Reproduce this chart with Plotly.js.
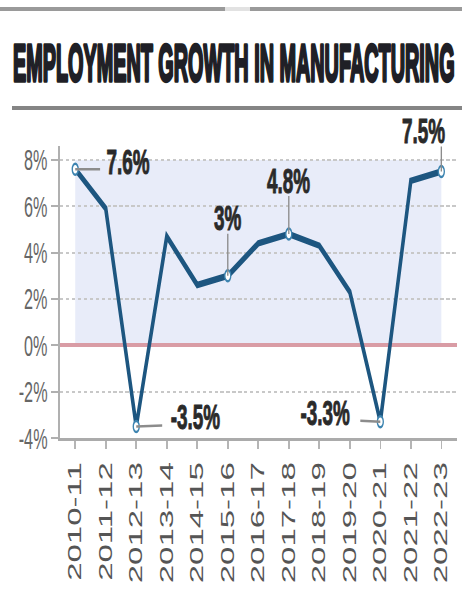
<!DOCTYPE html>
<html>
<head>
<meta charset="utf-8">
<script src="https://cdn.plot.ly/plotly-3.0.1.min.js"></script>
<style>
  html, body { margin: 0; padding: 0; overflow: hidden; background: #fff; }
  #wrap { width: 462px; height: 595px; overflow: hidden; position: relative; }
  #chart { width: 855px; height: 595px; transform: scaleX(0.540351); transform-origin: 0 0; }
</style>
</head>
<body>
<div id="wrap"><div id="chart"></div></div>
<script>
// ---- data ----
const years = ['2010-11','2011-12','2012-13','2013-14','2014-15','2015-16','2016-17',
               '2017-18','2018-19','2019-20','2020-21','2021-22','2022-23'];
const growth = [7.6, 5.9, -3.5, 4.7, 2.6, 3.0, 4.4, 4.8, 4.3, 2.3, -3.3, 7.1, 7.5];
const labelIdx = [0, 2, 5, 7, 10, 12];
const labelText = ['7.6%', '-3.5%', '3%', '4.8%', '-3.3%', '7.5%'];
const yTicks = [-4, -2, 0, 2, 4, 6, 8];
const yTickText = ['-4%', '-2%', '0%', '2%', '4%', '6%', '8%'];
const titleText = 'EMPLOYMENT GROWTH IN MANUFACTURING';

// ---- styling (positions in unscaled px) ----
const labelShift = [[98, 8], [109, 10], [0, 58], [0, 54], [-102, 9], [-33, 41]];
const leader = [[46, 0], [48, 1], [0, 42], [0, 38], [-37, 1], [0, 25]];

const S = 855 / 462;
const plotL = 111, plotR = 10, plotT = 146, plotB = 157;
const plotW = 855 - plotL - plotR, plotH = 595 - plotT - plotB;
const px = X => (X * S - plotL) / plotW;
const py = Y => (595 - plotB - Y) / plotH;

const shapes = [
  { type: 'rect', xref: 'x', yref: 'y', x0: 0, x1: years.length - 1, y0: 0, y1: 8,
    fillcolor: '#e8ecf9', line: { width: 0 }, layer: 'below' },
  { type: 'line', xref: 'paper', yref: 'paper', x0: px(0), x1: px(225), y0: py(9), y1: py(9),
    line: { color: '#9a9a9a', width: 4 } },
  { type: 'line', xref: 'paper', yref: 'paper', x0: px(250), x1: px(462), y0: py(9), y1: py(9),
    line: { color: '#9a9a9a', width: 4 } },
  { type: 'line', xref: 'paper', yref: 'paper', x0: px(225), x1: px(250), y0: py(9), y1: py(9),
    line: { color: '#e2e2e2', width: 4 } },
  { type: 'line', xref: 'paper', yref: 'paper', x0: px(12), x1: px(462), y0: py(108), y1: py(108),
    line: { color: '#858585', width: 4 } }
];
labelIdx.forEach((i, k) => {
  shapes.push({ type: 'line', xref: 'x', yref: 'y', xsizemode: 'pixel', ysizemode: 'pixel',
    xanchor: i, yanchor: growth[i], x0: 0, x1: leader[k][0], y0: 0, y1: leader[k][1],
    line: { color: '#8c8c8c', width: 2.5 }, layer: 'above' });
});

const annotations = labelIdx.map((i, k) => ({
  x: i, y: growth[i], xref: 'x', yref: 'y', text: labelText[k], showarrow: false,
  xanchor: 'center', yanchor: 'middle', xshift: labelShift[k][0], yshift: labelShift[k][1],
  font: { family: 'Liberation Sans, Arial, sans-serif', size: 35, weight: 700, color: '#2a2a2a' }
}));

const traces = [
  { x: years, y: growth, type: 'scatter', mode: 'lines',
    line: { color: '#1d5680', width: 6.5 }, hoverinfo: 'skip', cliponaxis: false },
  { x: labelIdx.map(i => years[i]), y: labelIdx.map(i => growth[i]), type: 'scatter', mode: 'markers',
    marker: { size: 11, color: '#ffffff', line: { color: '#3d84b0', width: 2.5 } },
    hoverinfo: 'skip', cliponaxis: false }
];

const layout = {
  width: 855, height: 595,
  margin: { l: plotL, r: plotR, t: plotT, b: plotB },
  paper_bgcolor: '#ffffff', plot_bgcolor: 'rgba(0,0,0,0)',
  showlegend: false,
  title: { text: titleText, xref: 'container', yref: 'container', x: 0.506, y: 1 - 63 / 595,
    xanchor: 'center', yanchor: 'middle',
    font: { family: 'Liberation Sans Narrow, Liberation Sans, Arial, sans-serif', size: 44, weight: 700, color: '#1f1f26' } },
  xaxis: { type: 'category', range: [-0.5, years.length - 0.5], tickangle: -90,
    showline: true, linecolor: '#ababab', linewidth: 3, showgrid: false, zeroline: false,
    ticks: 'outside', ticklen: 8, tickwidth: 3, tickcolor: '#b5b5b5',
    tickfont: { family: 'Liberation Sans, Arial, sans-serif', size: 33, color: '#555' } },
  yaxis: { range: [-4, 8.6], tickvals: yTicks, ticktext: yTickText,
    showline: true, linecolor: '#b0b0b0', linewidth: 4,
    ticks: 'outside', ticklen: 13, tickwidth: 2, tickcolor: '#b0b0b0',
    showgrid: true, gridcolor: '#c8c8c8', gridwidth: 2, griddash: '6px,5px',
    zeroline: true, zerolinecolor: '#d99ca5', zerolinewidth: 4,
    tickfont: { family: 'Liberation Sans, Arial, sans-serif', size: 30, color: '#666' } },
  shapes: shapes,
  annotations: annotations
};

Plotly.newPlot('chart', traces, layout, { displayModeBar: false, staticPlot: true }).then(gd => {
  const t = gd.querySelector('.gtitle');
  if (t) {
    t.style.stroke = '#1f1f26';
    t.style.strokeWidth = '3px';
    t.style.strokeLinejoin = 'round';
    const bb = t.getBBox();
    const targetW = 443 * S, capH = 40;
    const sx = targetW / (bb.width + 3);
    const sy = capH / (0.716 * 44 + 3);
    const cx = bb.x + bb.width / 2, cy = bb.y + bb.height / 2;
    t.setAttribute('transform',
      'translate(' + cx + ',' + cy + ') scale(' + sx + ',' + sy + ') translate(' + (-cx) + ',' + (-cy) + ')');
  }
  gd.querySelectorAll('.annotation-text').forEach(a => {
    a.style.stroke = '#2a2a2a';
    a.style.strokeWidth = '1px';
  });
});
</script>
</body>
</html>
